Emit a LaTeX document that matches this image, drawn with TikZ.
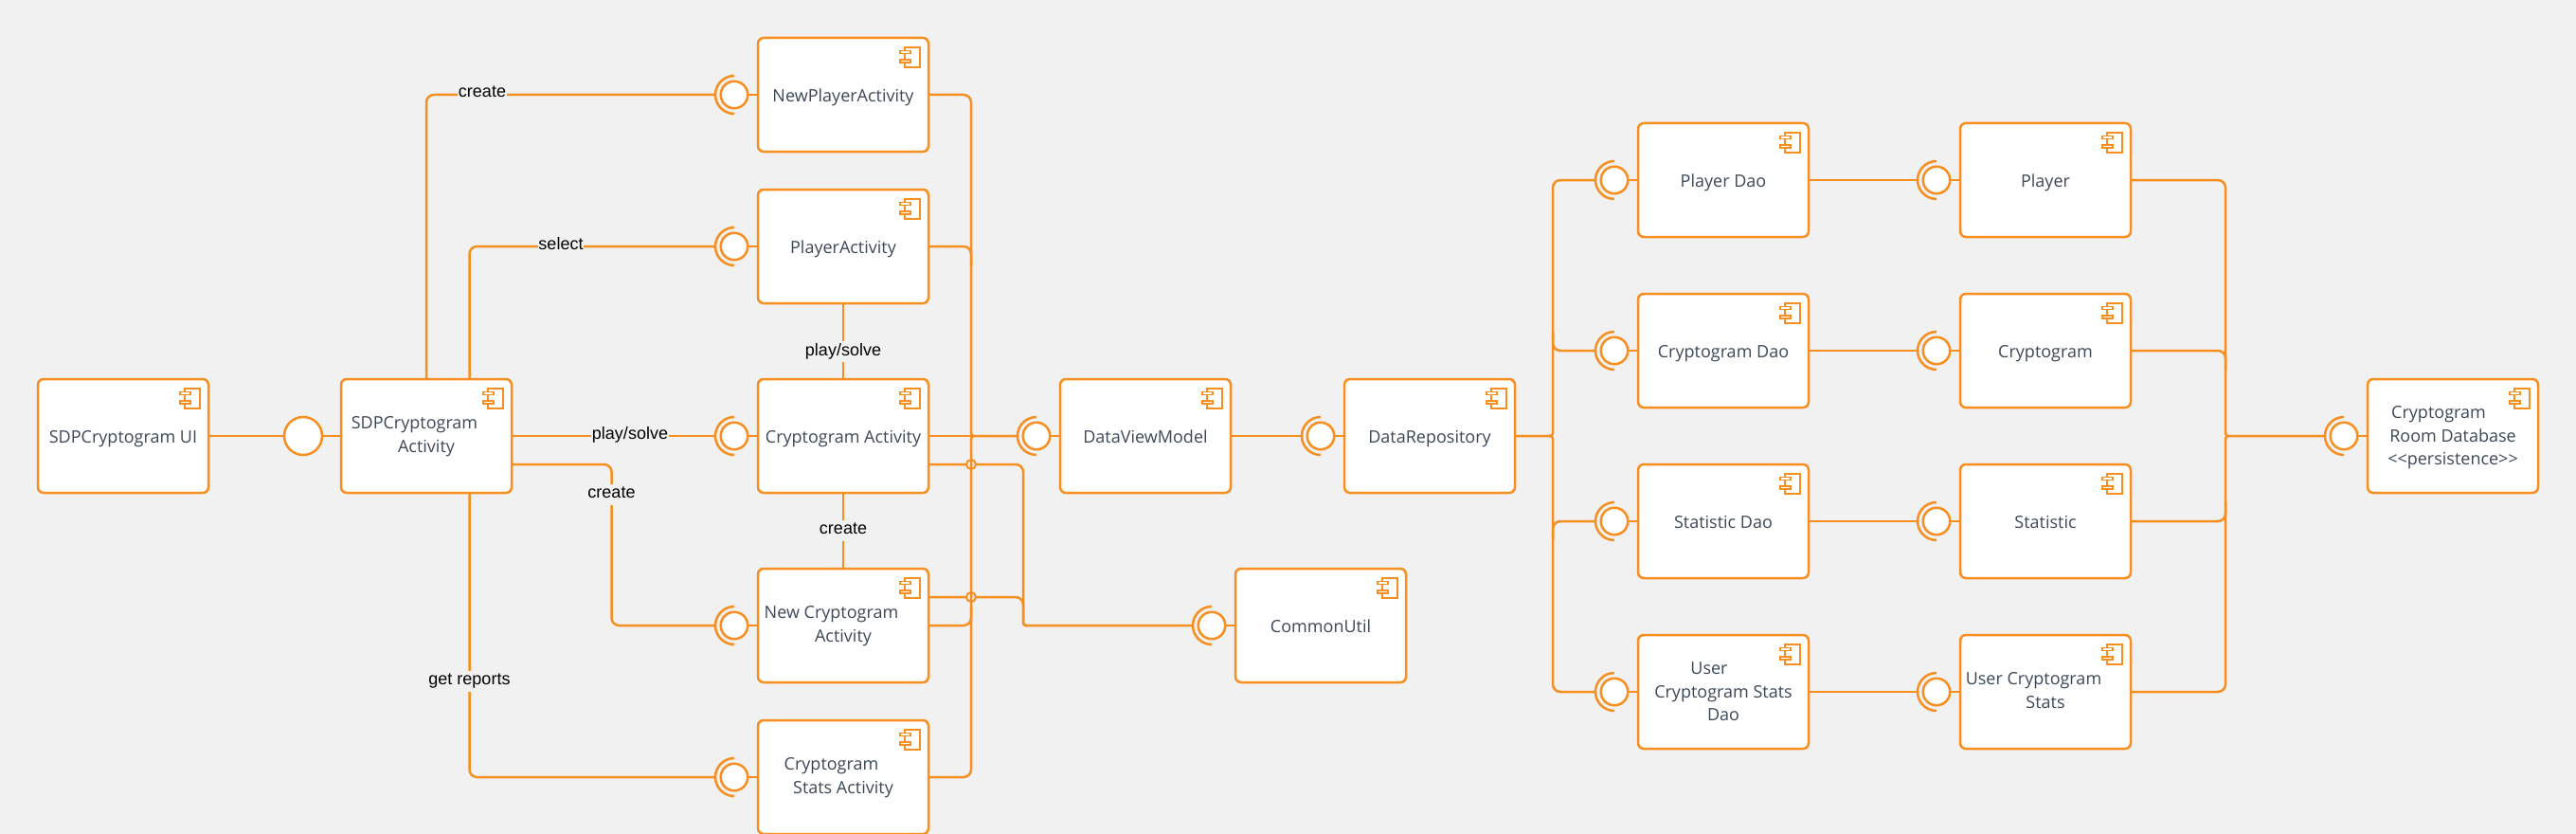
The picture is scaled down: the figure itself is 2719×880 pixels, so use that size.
\documentclass[tikz,border=0pt]{standalone}
\usepackage{fontspec}
\setmainfont{Open Sans}
\newfontfamily\lblfont{Liberation Sans}
\definecolor{orng}{HTML}{F78F20}
\definecolor{bgc}{HTML}{F1F1F1}
\definecolor{txtc}{HTML}{3C4858}
\newcommand\oneL[1]{\rule[-5pt]{0pt}{25.4pt}#1}
\newcommand\twoL[2]{\rule{0pt}{15pt}#1\\\rule[-5pt]{0pt}{5pt}#2}
\newcommand\threeL[3]{\rule{0pt}{17pt}#1\\#2\\\rule[-5pt]{0pt}{5pt}#3}
\tikzset{
  comp/.style={draw=orng,line width=2.5pt,fill=white,rounded corners=6pt,minimum width=180pt,minimum height=120pt,
    inner sep=0pt,outer sep=0pt,align=center,text=txtc,font=\fontsize{18}{24.6}\selectfont},
  conn/.style={draw=orng,line width=2.5pt,rounded corners=8pt},
  ifc/.style={circle,draw=orng,line width=2.5pt,fill=white,minimum size=28.5pt,inner sep=0pt,outer sep=0pt},
  ball/.style={circle,draw=orng,line width=2.5pt,fill=white,minimum size=40pt,inner sep=0pt,outer sep=0pt},
  bump/.style={circle,draw=orng,line width=2pt,fill=bgc,minimum size=10pt,inner sep=0pt,outer sep=0pt},
  lbl/.style={fill=bgc,text=black,inner xsep=0.5pt,inner ysep=0pt,text height=15pt,text depth=7pt,font=\lblfont\fontsize{18}{20}\selectfont},
  icn/.style={draw=orng,line width=1.1pt,fill=white}
}
\newcommand\iconat[1]{%
  \draw[icn] ([shift={(-25pt,-10pt)}]#1.north east) rectangle ([shift={(-9pt,-31pt)}]#1.north east);
  \draw[icn] ([shift={(-30pt,-13.5pt)}]#1.north east) rectangle ([shift={(-19pt,-16.5pt)}]#1.north east);
  \draw[icn] ([shift={(-30pt,-23pt)}]#1.north east) rectangle ([shift={(-19pt,-26pt)}]#1.north east);
}
\newcommand\iface[4]{%
  \node[ifc] (#1) at (#2,#3) {};
  \coordinate (#1a) at ([xshift=-20pt]#1.center);
  \draw[orng,line width=2.5pt] ([yshift=20pt]#1.center) arc[start angle=90,end angle=270,radius=20pt];
  \draw[conn] (#1) -- (#4);
}
\newcommand\joinin[3]{\draw[conn] (#1) -- (#1 -| #2) [rounded corners=3pt] -- (#2) -- (#3);}
\newcommand\joinout[3]{\draw[conn,rounded corners=3pt] (#1) -- (#2) [rounded corners=8pt] -- (#2 |- #3) -- (#3);}
\begin{document}
\begin{tikzpicture}[x=1pt,y=-1pt]
\useasboundingbox[fill=bgc] (0,0) rectangle (2719,880);
% components
\node[comp] (ui) at (130,460) {\oneL{SDPCryptogram UI}};
\node[comp] (sdpa) at (450,460) {\twoL{SDPCryptogram\kern25pt}{Activity}};
\node[comp] (np) at (890,100) {\oneL{NewPlayerActivity}};
\node[comp] (pa) at (890,260) {\oneL{PlayerActivity}};
\node[comp] (ca) at (890,460) {\oneL{Cryptogram Activity}};
\node[comp] (nc) at (890,660) {\twoL{New Cryptogram\kern25pt}{Activity}};
\node[comp] (st) at (890,820) {\twoL{Cryptogram\kern25pt}{Stats Activity}};
\node[comp] (dv) at (1209,460) {\oneL{DataViewModel}};
\node[comp] (cu) at (1394,660) {\oneL{CommonUtil}};
\node[comp] (dr) at (1509,460) {\oneL{DataRepository}};
\node[comp] (pd) at (1819,190) {\oneL{Player Dao}};
\node[comp] (cd) at (1819,370) {\oneL{Cryptogram Dao}};
\node[comp] (sd) at (1819,550) {\oneL{Statistic Dao}};
\node[comp] (ud) at (1819,730) {\threeL{User\kern30pt}{Cryptogram Stats}{Dao}};
\node[comp] (pl) at (2159,190) {\oneL{Player}};
\node[comp] (cg) at (2159,370) {\oneL{Cryptogram}};
\node[comp] (ss) at (2159,550) {\oneL{Statistic}};
\node[comp] (us) at (2159,730) {\twoL{User Cryptogram\kern25pt}{Stats}};
\node[comp] (db) at (2589,460) {\threeL{Cryptogram\kern30pt}{Room Database}{<{}<persistence>{}>}};
\foreach \n in {ui,sdpa,np,pa,ca,nc,st,dv,cu,dr,pd,cd,sd,ud,pl,cg,ss,us,db}{\iconat{\n}}
% interfaces
\iface{inp}{775}{100}{np}
\iface{ipa}{775}{260}{pa}
\iface{ica}{775}{460}{ca}
\iface{inc}{775}{660}{nc}
\iface{ist}{775}{820}{st}
\iface{idv}{1094}{460}{dv}
\iface{icu}{1279}{660}{cu}
\iface{idr}{1394}{460}{dr}
\iface{ipd}{1704}{190}{pd}
\iface{icd}{1704}{370}{cd}
\iface{isd}{1704}{550}{sd}
\iface{iud}{1704}{730}{ud}
\iface{ipl}{2044}{190}{pl}
\iface{icg}{2044}{370}{cg}
\iface{iss}{2044}{550}{ss}
\iface{ius}{2044}{730}{us}
\iface{idb}{2474}{460}{db}
\node[ball] (uib) at (320,460) {};
\draw[conn] (ui) -- (uib);
\draw[conn] (uib) -- (sdpa);
% left side
\coordinate (sdN) at (495.5,400);
\coordinate (sdS) at (495.5,520);
\coordinate (sdE) at (540,490);
\coordinate (nb) at (645.5,490);
\draw[conn] (sdpa.north) |- (inpa);
\draw[conn] (sdN) |- (ipaa);
\draw[conn] (sdpa.east) -- (icaa);
\draw[conn] (sdE) -- (nb) |- (inca);
\draw[conn] (sdS) |- (ista);
\draw[conn] (pa.south) -- (ca.north);
\draw[conn] (ca.south) -- (nc.north);
% to common util (with crossings of the trunk)
\coordinate (tr) at (1025,460);
\coordinate (tr2) at (1029,460);
\coordinate (trA) at (1025,280);
\coordinate (trB) at (1025,640);
\coordinate (cuX) at (1080,660);
\coordinate (cuX2) at (1084,660);
\coordinate (caE) at (980,490);
\coordinate (ncE) at (980,630);
\joinin{caE}{cuX}{icua}
\joinin{ncE}{cuX}{cuX2}
\node[bump] (bp1) at (1025,490) {};
\node[bump] (bp2) at (1025,630) {};
% trunk to DataViewModel
\joinin{np.east}{tr}{idva}
\draw[conn] (pa.east) -| (trA);
\draw[conn] (nc.east) -| (trB);
\joinin{st.east}{tr}{tr2}
\draw[conn] (ca.east) -- (tr);
\draw[conn] (dv.east) -- (idra);
% repository to daos
\coordinate (tq) at (1639,460);
\coordinate (tq0) at (1635,460);
\coordinate (tqA) at (1639,350);
\coordinate (tqB) at (1639,570);
\joinout{dr.east}{tq}{ipda}
\joinout{tq0}{tq}{iuda}
\draw[conn] (icda) -| (tqA);
\draw[conn] (isda) -| (tqB);
% daos to entities
\draw[conn] (pd.east) -- (ipla);
\draw[conn] (cd.east) -- (icga);
\draw[conn] (sd.east) -- (issa);
\draw[conn] (ud.east) -- (iusa);
% entities to database
\coordinate (ts) at (2349,460);
\coordinate (ts2) at (2353,460);
\coordinate (tsA) at (2349,390);
\coordinate (tsB) at (2349,530);
\joinin{pl.east}{ts}{idba}
\draw[conn] (cg.east) -| (tsA);
\draw[conn] (ss.east) -| (tsB);
\joinin{us.east}{ts}{ts2}
% labels
\node[lbl] (l1) at (509,99) {create};
\node[lbl] (l2) at (592,259) {select};
\node[lbl] (l3) at (665,459) {play/solve};
\node[lbl] (l4) at (645.5,521.5) {create};
\node[lbl] (l5) at (495.5,718.5) {get reports};
\node[lbl] (l6) at (890,371) {play/solve};
\node[lbl] (l7) at (890,559.5) {create};
\end{tikzpicture}
\end{document}
